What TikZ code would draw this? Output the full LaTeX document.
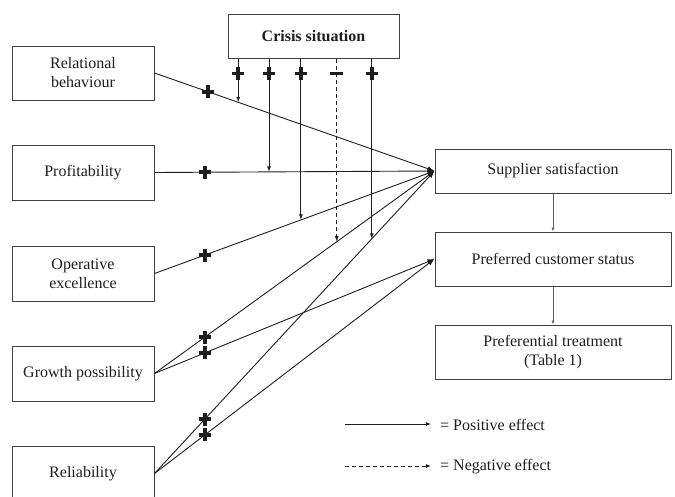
\documentclass[tikz,border=0pt]{standalone}
\usepackage{fontspec}
\setmainfont{Liberation Serif}
\usetikzlibrary{arrows.meta}
\definecolor{ink}{HTML}{1E1E1E}
\tikzset{
  box/.style={draw=ink!85, line width=1pt, inner sep=0pt, align=center,
    font=\fontsize{16}{19}\selectfont, text=ink},
  effect/.style={draw=ink, line width=0.9pt, -{Latex[length=7pt,width=5pt]}},
  moderator/.style={draw=ink, line width=0.9pt, -{Latex[length=5.5pt,width=4pt]}},
  negative/.style={moderator, dash pattern=on 4pt off 3pt},
  flow/.style={draw=ink!70, line width=0.7pt, -{Latex[length=4pt,width=3pt]}},
  plussign/.pic={\draw[ink, line width=3.8pt] (-6,0) -- (6,0) (0,-6.5) -- (0,6.5);},
  minussign/.pic={\draw[ink, line width=3.8pt] (-6.5,0) -- (6.5,0);},
}
\begin{document}
\begin{tikzpicture}[x=1pt, y=-1pt]
\useasboundingbox (0,0) rectangle (675,496);
\clip (0,0) rectangle (675,496);

% antecedents
\node[box, minimum width=142pt, minimum height=54pt] (rb) at (83,73) {Relational\\behaviour};
\node[box, minimum width=142pt, minimum height=55pt] (pr) at (83,172.5) {Profitability};
\node[box, minimum width=142pt, minimum height=55pt] (oe) at (83,273.5) {Operative\\excellence};
\node[box, minimum width=142pt, minimum height=55pt] (gp) at (83,373.5) {Growth possibility};
\node[box, minimum width=142pt, minimum height=55pt] (rl) at (83,473.5) {Reliability};

% moderator
\node[box, minimum width=171pt, minimum height=44pt, font=\fontsize{16}{19}\selectfont\bfseries] (cs) at (313.5,36) {Crisis situation};

% outcomes
\node[box, minimum width=236pt, minimum height=44pt] (ss) at (553,171) {Supplier satisfaction};
\node[box, minimum width=236pt, minimum height=54pt] (pcs) at (553,259) {Preferred customer status};
\node[box, minimum width=236pt, minimum height=54pt] (pt) at (553,352) {Preferential treatment\\(Table 1)};

% main effects
\draw[effect] (rb.east) -- (ss.west) coordinate[pos=0.19] (p1) coordinate[pos=0.299] (m1);
\draw[effect] (pr.east) -- (ss.west) coordinate[pos=0.18] (p2) coordinate[pos=0.409] (m2);
\draw[effect] (oe.east) -- (ss.west) coordinate[pos=0.18] (p3) coordinate[pos=0.523] (m3);
\draw[effect] (gp.east) -- (ss.west) coordinate[pos=0.18] (p4) coordinate[pos=0.651] (m4);
\draw[effect] (gp.east) -- (pcs.west) coordinate[pos=0.18] (p5);
\draw[effect] (rl.east) -- (ss.west) coordinate[pos=0.18] (p6) coordinate[pos=0.776] (m5);
\draw[effect] (rl.east) -- (pcs.west) coordinate[pos=0.18] (p7);

\foreach \p in {p1,p2,p3,p4,p5,p6,p7} \pic at (\p) {plussign};

% moderating effects of the crisis situation
\draw[moderator] (m1 |- cs.south) -- (m1);
\draw[moderator] (m2 |- cs.south) -- (m2);
\draw[moderator] (m3 |- cs.south) -- (m3);
\draw[negative] (m4 |- cs.south) -- (m4);
\draw[moderator] (m5 |- cs.south) -- (m5);
\foreach \m in {m1,m2,m3,m5} \pic at ([yshift=-15pt]\m |- cs.south) {plussign};
\pic at ([yshift=-15pt]m4 |- cs.south) {minussign};

% outcome chain
\draw[flow] (ss.south) -- (pcs.north);
\draw[flow] (pcs.south) -- (pt.north);

% legend
\coordinate (la) at (345,424);
\coordinate (lb) at (431,424);
\coordinate (lc) at (345,466);
\coordinate (ld) at (431,466);
\draw[effect, -{Latex[length=5pt,width=4pt]}] (la) -- (lb);
\draw[negative, -{Latex[length=5pt,width=4pt]}] (lc) -- (ld);
\node[anchor=west, inner sep=0pt, text=ink, font=\fontsize{16}{19}\selectfont] (lp) at (440,425) {= Positive effect};
\node[anchor=west, inner sep=0pt, text=ink, font=\fontsize{16}{19}\selectfont] (ln) at (440,467) {= Negative effect};
\end{tikzpicture}
\end{document}
